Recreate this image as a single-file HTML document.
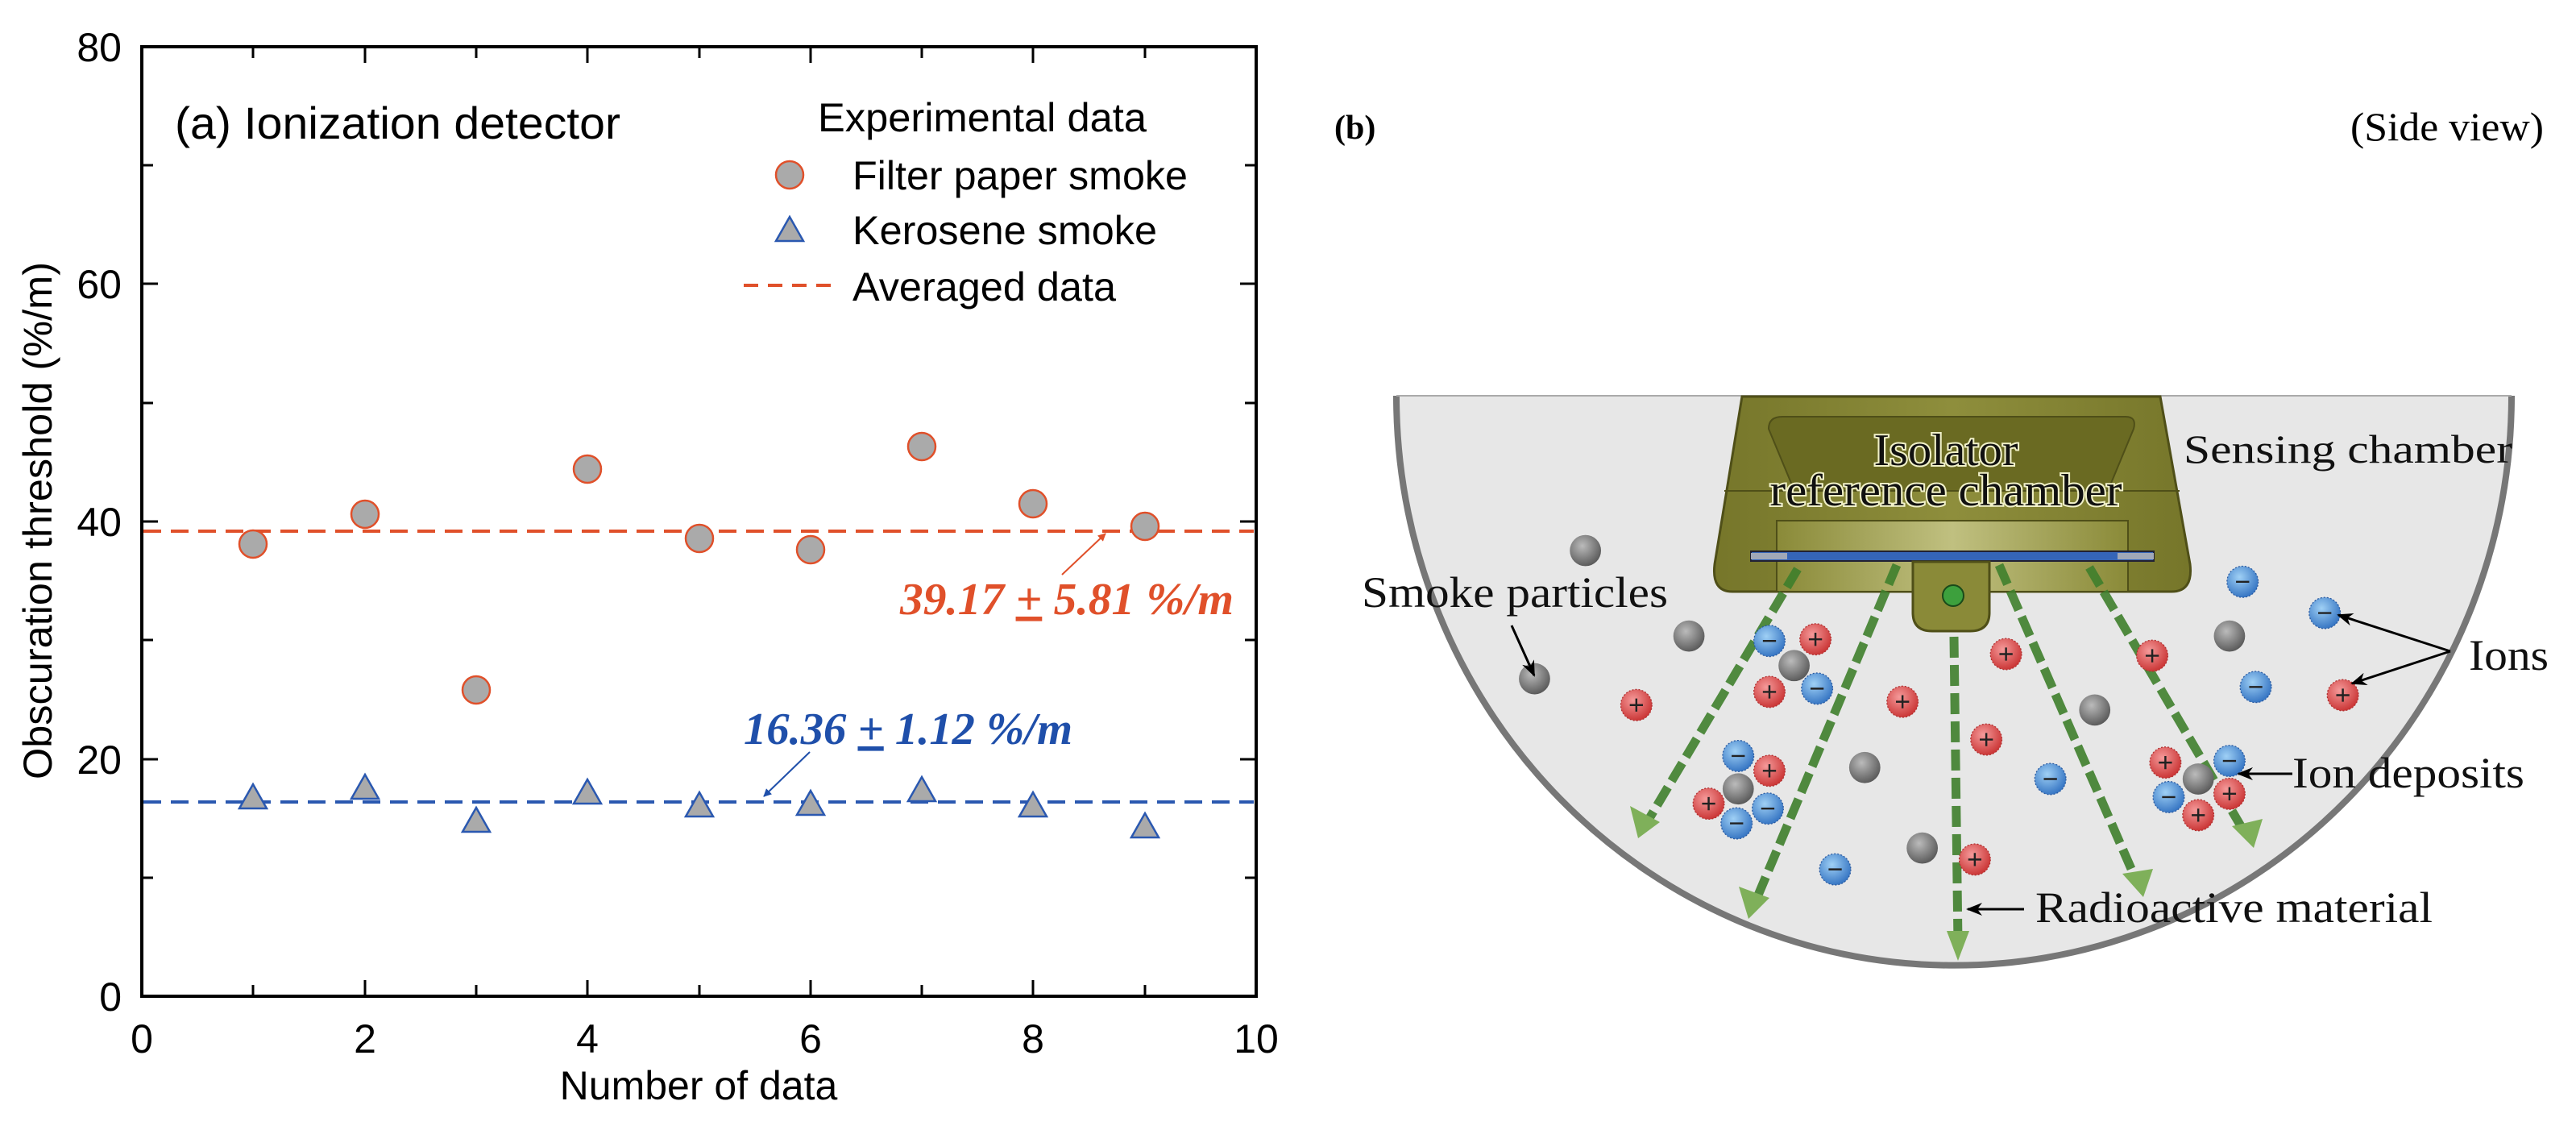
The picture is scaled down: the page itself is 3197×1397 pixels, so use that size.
<!DOCTYPE html>
<html><head><meta charset="utf-8"><style>html,body{margin:0;padding:0;background:#fff}svg{display:block}</style></head>
<body>
<svg width="3197" height="1397" viewBox="0 0 3197 1397" xmlns="http://www.w3.org/2000/svg">
<defs>
<marker id="ar" markerWidth="10" markerHeight="10" refX="9" refY="5" orient="auto" markerUnits="userSpaceOnUse"><path d="M0,0 L10,5 L0,10 z" fill="#e0502a"/></marker>
<marker id="ab" markerWidth="10" markerHeight="10" refX="9" refY="5" orient="auto" markerUnits="userSpaceOnUse"><path d="M0,0 L10,5 L0,10 z" fill="#1f4faa"/></marker>
<marker id="ak" markerWidth="20" markerHeight="16" refX="18" refY="8" orient="auto" markerUnits="userSpaceOnUse"><path d="M0,0 L20,8 L0,16 L6,8 z" fill="#000"/></marker>
<radialGradient id="gs" cx="0.4" cy="0.35" r="0.7"><stop offset="0" stop-color="#bbb"/><stop offset="1" stop-color="#555"/></radialGradient>
<radialGradient id="gr" cx="0.4" cy="0.35" r="0.7"><stop offset="0" stop-color="#f59a9a"/><stop offset="1" stop-color="#c83030"/></radialGradient>
<radialGradient id="gb" cx="0.4" cy="0.35" r="0.7"><stop offset="0" stop-color="#9fd0f5"/><stop offset="1" stop-color="#3070c0"/></radialGradient>
<linearGradient id="band" x1="0" x2="1"><stop offset="0" stop-color="#8a8a38"/><stop offset="0.5" stop-color="#c0c080"/><stop offset="1" stop-color="#8a8a38"/></linearGradient>
<linearGradient id="house" x1="0" x2="1"><stop offset="0" stop-color="#76762a"/><stop offset="0.5" stop-color="#8e8e3c"/><stop offset="1" stop-color="#76762a"/></linearGradient>
</defs>

<!-- LEFT PLOT -->
<g font-family="Liberation Sans, sans-serif" fill="#000">
<rect x="176" y="58" width="1383" height="1178" fill="none" stroke="#000" stroke-width="4"/>
<g stroke="#000" stroke-width="3">
<path d="M314,1236v-14M453,1236v-20M591,1236v-14M729,1236v-20M868,1236v-14M1006,1236v-20M1144,1236v-14M1282,1236v-20M1421,1236v-14"/>
<path d="M314,58v14M453,58v20M591,58v14M729,58v20M868,58v14M1006,58v20M1144,58v14M1282,58v20M1421,58v14"/>
<path d="M176,1089h14M176,942h20M176,794h14M176,647h20M176,500h14M176,352h20M176,205h14"/>
<path d="M1559,1089h-14M1559,942h-20M1559,794h-14M1559,647h-20M1559,500h-14M1559,352h-20M1559,205h-14"/>
</g>
<g font-size="50" text-anchor="end">
<text x="151" y="1254">0</text><text x="151" y="960">20</text><text x="151" y="665">40</text><text x="151" y="370">60</text><text x="151" y="76">80</text>
</g>
<g font-size="50" text-anchor="middle">
<text x="176" y="1306">0</text><text x="453" y="1306">2</text><text x="729" y="1306">4</text><text x="1006" y="1306">6</text><text x="1282" y="1306">8</text><text x="1559" y="1306">10</text>
</g>
<text x="867" y="1364" font-size="50" text-anchor="middle">Number of data</text>
<text transform="translate(64,646) rotate(-90)" font-size="50" text-anchor="middle" textLength="642" lengthAdjust="spacingAndGlyphs">Obscuration threshold (%/m)</text>
<text x="217" y="172" font-size="56" textLength="553" lengthAdjust="spacingAndGlyphs">(a) Ionization detector</text>
<text x="1015" y="163" font-size="50" textLength="408" lengthAdjust="spacingAndGlyphs">Experimental data</text>
<text x="1058" y="235" font-size="50" textLength="416" lengthAdjust="spacingAndGlyphs">Filter paper smoke</text>
<text x="1058" y="303" font-size="50" textLength="378" lengthAdjust="spacingAndGlyphs">Kerosene smoke</text>
<text x="1058" y="373" font-size="50" textLength="327" lengthAdjust="spacingAndGlyphs">Averaged data</text>
<circle cx="980" cy="217" r="17" fill="#aaa" stroke="#e0502a" stroke-width="2.5"/>
<polygon points="980,269 997,299 963,299" fill="#aaa" stroke="#2a58b0" stroke-width="2.5"/>
<line x1="923" y1="354" x2="1036" y2="354" stroke="#e0502a" stroke-width="4" stroke-dasharray="18,12"/>
<line x1="178" y1="659" x2="1556" y2="659" stroke="#e0502a" stroke-width="4" stroke-dasharray="22,12"/>
<line x1="178" y1="995" x2="1556" y2="995" stroke="#2a58b0" stroke-width="4" stroke-dasharray="22,12"/>
<g fill="#aaa" stroke="#e0502a" stroke-width="2.5">
<circle cx="314" cy="675" r="17"/><circle cx="453" cy="638" r="17"/><circle cx="591" cy="856" r="17"/><circle cx="729" cy="582" r="17"/><circle cx="868" cy="668" r="17"/><circle cx="1006" cy="682" r="17"/><circle cx="1144" cy="554" r="17"/><circle cx="1282" cy="625" r="17"/><circle cx="1421" cy="653" r="17"/>
</g>
<g fill="#aaa" stroke="#2a58b0" stroke-width="2.5">
<polygon points="314,973 331,1003 297,1003"/><polygon points="453,961 470,991 436,991"/><polygon points="591,1002 608,1032 574,1032"/><polygon points="729,967 746,997 712,997"/><polygon points="868,983 885,1013 851,1013"/><polygon points="1006,981 1023,1011 989,1011"/><polygon points="1144,964 1161,994 1127,994"/><polygon points="1282,983 1299,1013 1265,1013"/><polygon points="1421,1009 1438,1039 1404,1039"/>
</g>
<text x="1117" y="762" font-family="Liberation Serif, serif" font-style="italic" font-weight="bold" font-size="56" fill="#e0502a" textLength="414" lengthAdjust="spacingAndGlyphs">39.17 <tspan text-decoration="underline">+</tspan> 5.81 %/m</text>
<line x1="1318" y1="713" x2="1372" y2="662" stroke="#e0502a" stroke-width="2" marker-end="url(#ar)"/>
<text x="923" y="923" font-family="Liberation Serif, serif" font-style="italic" font-weight="bold" font-size="56" fill="#1f4faa" textLength="408" lengthAdjust="spacingAndGlyphs">16.36 <tspan text-decoration="underline">+</tspan> 1.12 %/m</text>
<line x1="1005" y1="933" x2="948" y2="988" stroke="#1f4faa" stroke-width="2" marker-end="url(#ab)"/>
</g>

<!-- RIGHT PANEL -->
<text x="1656" y="172" font-family="Liberation Serif, serif" font-weight="bold" font-size="42">(b)</text>
<text x="3157" y="174" font-family="Liberation Serif, serif" font-size="50" text-anchor="end" textLength="240" lengthAdjust="spacingAndGlyphs">(Side view)</text>

<path d="M1733,491 A692,707 0 0 0 3117,491 Z" fill="#e7e7e7"/>
<path d="M1733,491 A692,707 0 0 0 3117,491" fill="none" stroke="#777" stroke-width="8"/>
<line x1="1733" y1="491" x2="3117" y2="491" stroke="#aaa" stroke-width="2"/>

<!-- housing -->
<path d="M2162,492 L2681,492 L2718,700 Q2722,734 2695,734 L2150,734 Q2124,734 2128,700 Z" fill="url(#house)" stroke="#4f4f18" stroke-width="3"/>
<path d="M2195,532 Q2195,517 2212,517 L2638,517 Q2652,517 2648,532 L2616,609 L2227,609 Z" fill="#6a6a22" stroke="#4f4f18" stroke-width="2"/>
<line x1="2140" y1="609" x2="2705" y2="609" stroke="#4f4f18" stroke-width="2"/>
<rect x="2205" y="646" width="436" height="88" fill="url(#band)" stroke="#4f4f18" stroke-width="2"/>
<rect x="2173" y="684" width="500" height="12" fill="#3565b8" stroke="#223" stroke-width="2"/>
<rect x="2173" y="686" width="45" height="8" fill="#a0a8b8"/><rect x="2628" y="686" width="45" height="8" fill="#a0a8b8"/>
<path d="M2374,697 L2469,697 L2469,760 Q2469,783 2445,783 L2398,783 Q2374,783 2374,760 Z" fill="#8a8a38" stroke="#4f4f18" stroke-width="3"/>
<circle cx="2424" cy="739" r="13" fill="#3da03d" stroke="#1a4a1a" stroke-width="2"/>

<g font-family="Liberation Serif, serif" font-size="56" text-anchor="middle" fill="#111" stroke="#f0f0c8" stroke-width="4" paint-order="stroke">
<text x="2415" y="577" textLength="179" lengthAdjust="spacingAndGlyphs">Isolator</text>
<text x="2415" y="627" textLength="437" lengthAdjust="spacingAndGlyphs">reference chamber</text>
</g>

<!-- green arrows -->
<g stroke="#3f7f2c" stroke-width="11" stroke-dasharray="26,9" fill="none" opacity="0.9">
<line x1="2231" y1="706" x2="2043" y2="1022"/>
<line x1="2354" y1="701" x2="2178" y2="1120"/>
<line x1="2425" y1="790" x2="2430" y2="1170"/>
<line x1="2481" y1="701" x2="2652" y2="1094"/>
<line x1="2593" y1="704" x2="2787" y2="1035"/>
</g>
<g fill="#7fb05a">
<polygon points="2033,1040 2023,1000 2060,1020"/>
<polygon points="2170,1140 2158,1100 2196,1114"/>
<polygon points="2430,1192 2416,1155 2444,1155"/>
<polygon points="2660,1113 2634,1084 2672,1078"/>
<polygon points="2797,1052 2770,1025 2808,1016"/>
</g>

<!-- particles in thumbnail coords -->
<g transform="scale(2.039)">
<g fill="url(#gs)">
<circle cx="965" cy="335" r="9.5"/><circle cx="1028" cy="387" r="9.5"/><circle cx="934" cy="413" r="9.5"/><circle cx="1092" cy="405" r="9.5"/><circle cx="1058" cy="480" r="9.5"/><circle cx="1135" cy="467" r="9.5"/><circle cx="1170" cy="516" r="9.5"/><circle cx="1275" cy="432" r="9.5"/><circle cx="1357" cy="387" r="9.5"/><circle cx="1338" cy="474" r="9.5"/>
</g>
<g fill="url(#gr)" stroke="#b03030" stroke-width="0.6" stroke-dasharray="1,1">
<circle cx="996" cy="429" r="9.5"/><circle cx="1105" cy="389" r="9.5"/><circle cx="1077" cy="421" r="9.5"/><circle cx="1158" cy="427" r="9.5"/><circle cx="1221" cy="398" r="9.5"/><circle cx="1209" cy="450" r="9.5"/><circle cx="1310" cy="399" r="9.5"/><circle cx="1426" cy="423" r="9.5"/><circle cx="1077" cy="469" r="9.5"/><circle cx="1040" cy="489" r="9.5"/><circle cx="1318" cy="464" r="9.5"/><circle cx="1357" cy="483" r="9.5"/><circle cx="1338" cy="496" r="9.5"/><circle cx="1202" cy="523" r="9.5"/>
</g>
<g fill="url(#gb)" stroke="#2a5aa0" stroke-width="0.6" stroke-dasharray="1,1">
<circle cx="1077" cy="390" r="9.5"/><circle cx="1106" cy="419" r="9.5"/><circle cx="1058" cy="460" r="9.5"/><circle cx="1076" cy="492" r="9.5"/><circle cx="1057" cy="501" r="9.5"/><circle cx="1248" cy="474" r="9.5"/><circle cx="1365" cy="354" r="9.5"/><circle cx="1373" cy="418" r="9.5"/><circle cx="1415" cy="373" r="9.5"/><circle cx="1117" cy="529" r="9.5"/><circle cx="1357" cy="463" r="9.5"/><circle cx="1320" cy="485" r="9.5"/>
</g>
<g stroke="#222" stroke-width="1.2">
<path d="M992,429h8M996,425v8 M1101,389h8M1105,385v8 M1073,421h8M1077,417v8 M1154,427h8M1158,423v8 M1217,398h8M1221,394v8 M1205,450h8M1209,446v8 M1306,399h8M1310,395v8 M1422,423h8M1426,419v8 M1073,469h8M1077,465v8 M1036,489h8M1040,485v8 M1314,464h8M1318,460v8 M1353,483h8M1357,479v8 M1334,496h8M1338,492v8 M1198,523h8M1202,519v8"/>
<path d="M1073,390h8M1102,419h8M1054,460h8M1072,492h8M1053,501h8M1244,474h8M1361,354h8M1369,418h8M1411,373h8M1113,529h8M1353,463h8M1316,485h8"/>
</g>
</g>

<g font-family="Liberation Serif, serif" font-size="54" fill="#111">
<text x="2710" y="574" font-size="50" textLength="408" lengthAdjust="spacingAndGlyphs">Sensing chamber</text>
<text x="1690" y="753" textLength="380" lengthAdjust="spacingAndGlyphs">Smoke particles</text>
<text x="3064" y="831" textLength="99" lengthAdjust="spacingAndGlyphs">Ions</text>
<text x="2845" y="977" textLength="288" lengthAdjust="spacingAndGlyphs">Ion deposits</text>
<text x="2526" y="1144" textLength="493" lengthAdjust="spacingAndGlyphs">Radioactive material</text>
</g>
<g stroke="#000" stroke-width="3" fill="none">
<path d="M1876,776 L1904,838" marker-end="url(#ak)"/>
<path d="M3041,808 L2902,763" marker-end="url(#ak)"/>
<path d="M3041,808 L2919,848" marker-end="url(#ak)"/>
<path d="M2845,960 L2778,960" marker-end="url(#ak)"/>
<path d="M2512,1128 L2442,1128" marker-end="url(#ak)"/>
</g>
</svg>
</body></html>
